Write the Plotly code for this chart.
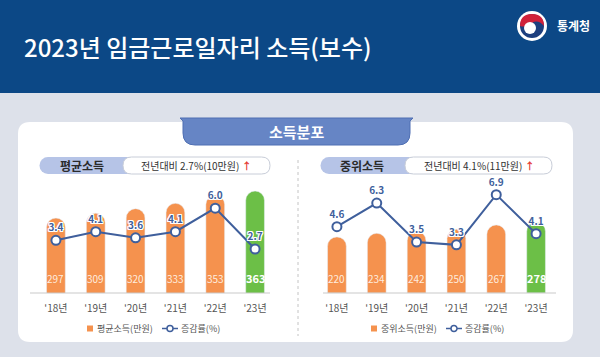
import plotly.graph_objects as go

# ---------------- data ----------------
years = ["'18년", "'19년", "'20년", "'21년", "'22년", "'23년"]
avg_income = [297, 309, 320, 333, 353, 363]
avg_rate = [3.4, 4.1, 3.6, 4.1, 6.0, 2.7]
med_income = [220, 234, 242, 250, 267, 278]
med_rate = [4.6, 6.3, 3.5, 3.3, 6.9, 4.1]

title_text = "2023년 임금근로일자리 소득(보수)"
section_text = "소득분포"
avg_name = "평균소득"
med_name = "중위소득"
avg_note = "전년대비 2.7%(10만원)"
med_note = "전년대비 4.1%(11만원)"
avg_legend = "평균소득(만원)"
med_legend = "중위소득(만원)"
rate_legend = "증감률(%)"

# ---------------- style ----------------
W, H = 600, 357
FONT = "Noto Sans CJK KR"
ORANGE = "#f5924e"
GREEN = "#6cbf47"
LINE = "#3f5f9c"
HEADER = "#0c4886"
BG = "#dde1ea"
TAB = "#6685c5"
PILL = "#b6c4e7"


def px(x):
    return x / W


def py(y):
    return 1 - y / H


bar_colors = [ORANGE] * (len(years) - 1) + [GREEN]
halo = ("1px 0 0 #fff, -1px 0 0 #fff, 0 1px 0 #fff, 0 -1px 0 #fff, "
        "1px 1px 0 #fff, -1px -1px 0 #fff, 1px -1px 0 #fff, -1px 1px 0 #fff")

fig = go.Figure()

# left chart
fig.add_trace(go.Bar(x=years, y=avg_income, marker_color=bar_colors, width=0.47,
                     name=avg_legend, xaxis="x", yaxis="y", hoverinfo="skip"))
fig.add_trace(go.Scatter(x=years, y=avg_rate, mode="lines+markers+text",
                         text=[f"{v:.1f}" for v in avg_rate], textposition="top center",
                         textfont=dict(family=FONT, size=10, color=LINE, weight="bold", shadow=halo),
                         line=dict(color=LINE, width=2),
                         marker=dict(size=9, color="white", line=dict(color=LINE, width=2)),
                         name=rate_legend, xaxis="x", yaxis="y2",
                         cliponaxis=False, hoverinfo="skip"))
# right chart
fig.add_trace(go.Bar(x=years, y=med_income, marker_color=bar_colors, width=0.47,
                     name=med_legend, xaxis="x2", yaxis="y3", hoverinfo="skip"))
fig.add_trace(go.Scatter(x=years, y=med_rate, mode="lines+markers+text",
                         text=[f"{v:.1f}" for v in med_rate], textposition="top center",
                         textfont=dict(family=FONT, size=10, color=LINE, weight="bold", shadow=halo),
                         line=dict(color=LINE, width=2),
                         marker=dict(size=9, color="white", line=dict(color=LINE, width=2)),
                         name=rate_legend, xaxis="x2", yaxis="y4",
                         cliponaxis=False, hoverinfo="skip"))

ydom = [py(293), py(180)]
xaxis_common = dict(showgrid=False, zeroline=False, showline=False, ticks="",
                    tickfont=dict(family=FONT, size=10, color="#555"), fixedrange=True,
                    ticklabelstandoff=8)
yaxis_common = dict(visible=False, showgrid=False, zeroline=False, fixedrange=True)

shapes = []
annotations = []

# header band
shapes.append(dict(type="rect", xref="paper", yref="paper", x0=0, x1=1, y0=py(93), y1=1,
                   fillcolor=HEADER, line_width=0, layer="below"))
# white panel with rounded corners
x0, x1, y0, y1, r = 18, 573, 122, 342, 12
panel = (f"M {px(x0+r)},{py(y0)} L {px(x1-r)},{py(y0)} Q {px(x1)},{py(y0)} {px(x1)},{py(y0+r)} "
         f"L {px(x1)},{py(y1-r)} Q {px(x1)},{py(y1)} {px(x1-r)},{py(y1)} "
         f"L {px(x0+r)},{py(y1)} Q {px(x0)},{py(y1)} {px(x0)},{py(y1-r)} "
         f"L {px(x0)},{py(y0+r)} Q {px(x0)},{py(y0)} {px(x0+r)},{py(y0)} Z")
shapes.append(dict(type="path", xref="paper", yref="paper", path=panel,
                   fillcolor="white", line_width=0, layer="below"))
# section tab
tx0, tx1, ty0, ty1, tr = 183, 410, 118, 145, 12
tab = (f"M {px(tx0-3)},{py(ty0)} L {px(tx1+3)},{py(ty0)} L {px(tx1)},{py(ty0+3)} "
       f"L {px(tx1)},{py(ty1-tr)} Q {px(tx1)},{py(ty1)} {px(tx1-tr)},{py(ty1)} "
       f"L {px(tx0+tr)},{py(ty1)} Q {px(tx0)},{py(ty1)} {px(tx0)},{py(ty1-tr)} "
       f"L {px(tx0)},{py(ty0+3)} Z")
shapes.append(dict(type="path", xref="paper", yref="paper", path=tab,
                   fillcolor=TAB, line=dict(color="#4f6fb3", width=1), layer="below"))
annotations.append(dict(xref="paper", yref="paper", x=px(296), y=py(131), text=f"<b>{section_text}</b>",
                        showarrow=False, font=dict(family=FONT, size=15, color="white"),
                        xanchor="center", yanchor="middle"))


def pill(xa, xb, xc, ya, yb, name, note, name_x, note_x):
    rr = (yb - ya) / 2
    shapes.append(dict(type="rect", xref="paper", yref="paper", x0=px(xa), x1=px(xb + rr),
                       y0=py(yb), y1=py(ya), fillcolor=PILL, line_width=0, layer="below"))
    shapes.append(dict(type="circle", xref="paper", yref="paper", x0=px(xa - rr), x1=px(xa + rr),
                       y0=py(yb), y1=py(ya), fillcolor=PILL, line_width=0, layer="below"))
    shapes.append(dict(type="path", xref="paper", yref="paper",
                       path=(f"M {px(xb+rr)},{py(ya)} L {px(xc-rr)},{py(ya)} "
                             f"Q {px(xc)},{py(ya)} {px(xc)},{py(ya+rr)} Q {px(xc)},{py(yb)} {px(xc-rr)},{py(yb)} "
                             f"L {px(xb+rr)},{py(yb)} Q {px(xb)},{py(yb)} {px(xb)},{py(ya+rr)} "
                             f"Q {px(xb)},{py(ya)} {px(xb+rr)},{py(ya)} Z"),
                       fillcolor="white", line=dict(color="#c8cdd8", width=1), layer="below"))
    annotations.append(dict(xref="paper", yref="paper", x=px(name_x), y=py((ya + yb) / 2),
                            text=f"<b>{name}</b>", showarrow=False,
                            font=dict(family=FONT, size=12, color="#2b2b2b"),
                            xanchor="center", yanchor="middle"))
    annotations.append(dict(xref="paper", yref="paper", x=px(note_x), y=py((ya + yb) / 2),
                            text=f"{note} <span style='color:#e53935'><b>↑</b></span>", showarrow=False,
                            font=dict(family=FONT, size=10, color="#333"),
                            xanchor="center", yanchor="middle"))


pill(48, 123, 270, 157, 174, avg_name, avg_note, 82, 196)
pill(329, 405, 552, 157, 174, med_name, med_note, 362, 479)

# divider
shapes.append(dict(type="line", xref="paper", yref="paper", x0=px(298), x1=px(298),
                   y0=py(160), y1=py(336), line=dict(color="#c4c4c4", width=1, dash="dot")))
# baselines
shapes.append(dict(type="line", xref="paper", yref="paper", x0=px(30), x1=px(270),
                   y0=py(293), y1=py(293), line=dict(color="#c9c9c9", width=1)))
shapes.append(dict(type="line", xref="paper", yref="paper", x0=px(323), x1=px(556),
                   y0=py(293), y1=py(293), line=dict(color="#c9c9c9", width=1)))

# bar value labels
for i, (a, m) in enumerate(zip(avg_income, med_income)):
    last = i == len(years) - 1
    col = "white" if last else "rgba(255,244,232,0.95)"
    annotations.append(dict(xref="x", yref="y domain", x=years[i], y=0.13, text=(f"<b>{a}</b>" if last else str(a)),
                            showarrow=False, font=dict(family=FONT, size=10 if not last else 11, color=col),
                            yanchor="middle"))
    annotations.append(dict(xref="x2", yref="y3 domain", x=years[i], y=0.13, text=(f"<b>{m}</b>" if last else str(m)),
                            showarrow=False, font=dict(family=FONT, size=10 if not last else 11, color=col),
                            yanchor="middle"))


# custom legends
def legend(x, bar_text, rate_text, ly=328.5):
    shapes.append(dict(type="rect", xref="paper", yref="paper", x0=px(x), x1=px(x + 6),
                       y0=py(ly + 3), y1=py(ly - 3), fillcolor=ORANGE, line_width=0))
    annotations.append(dict(xref="paper", yref="paper", x=px(x + 8), y=py(ly), text=bar_text,
                            showarrow=False, xanchor="left", yanchor="middle",
                            font=dict(family=FONT, size=9, color="#555")))
    l0, l1 = x + 75, x + 91
    shapes.append(dict(type="line", xref="paper", yref="paper", x0=px(l0), x1=px(l1),
                       y0=py(ly), y1=py(ly), line=dict(color=LINE, width=1.5)))
    cxm = (l0 + l1) / 2
    shapes.append(dict(type="circle", xref="paper", yref="paper", x0=px(cxm - 3), x1=px(cxm + 3),
                       y0=py(ly + 3), y1=py(ly - 3), fillcolor="white", line=dict(color=LINE, width=1.5)))
    annotations.append(dict(xref="paper", yref="paper", x=px(l1 + 1), y=py(ly), text=rate_text,
                            showarrow=False, xanchor="left", yanchor="middle",
                            font=dict(family=FONT, size=9, color="#555")))


legend(87, avg_legend, rate_legend)
legend(371, med_legend, rate_legend)

# header title + logo
annotations.append(dict(xref="paper", yref="paper", x=px(22), y=py(47), text=title_text,
                        showarrow=False, xanchor="left", yanchor="middle",
                        font=dict(family=FONT, size=24, color="white", weight=500)))
annotations.append(dict(xref="paper", yref="paper", x=px(555), y=py(26), text="<b>통계청</b>",
                        showarrow=False, xanchor="left", yanchor="middle",
                        font=dict(family=FONT, size=12, color="white")))
cx, cy = 532, 26
shapes.append(dict(type="circle", xref="paper", yref="paper", x0=px(cx-15), x1=px(cx+15),
                   y0=py(cy+15), y1=py(cy-15), fillcolor="white", line_width=0))
shapes.append(dict(type="circle", xref="paper", yref="paper", x0=px(cx-12), x1=px(cx+12),
                   y0=py(cy+12), y1=py(cy-12), fillcolor="#1d3f7e", line_width=0))
shapes.append(dict(type="path", xref="paper", yref="paper",
                   path=(f"M {px(cx-12)},{py(cy)} Q {px(cx-12)},{py(cy-12)} {px(cx)},{py(cy-12)} "
                         f"Q {px(cx+12)},{py(cy-12)} {px(cx+12)},{py(cy)} "
                         f"Q {px(cx+6)},{py(cy-7)} {px(cx)},{py(cy-3)} Q {px(cx-6)},{py(cy+2)} {px(cx-12)},{py(cy)} Z"),
                   fillcolor="#d0213a", line_width=0))
shapes.append(dict(type="circle", xref="paper", yref="paper", x0=px(cx-8), x1=px(cx+4),
                   y0=py(cy+8), y1=py(cy-4), fillcolor="white", line_width=0))

fig.update_layout(
    width=W, height=H, margin=dict(l=0, r=0, t=0, b=0),
    paper_bgcolor=BG, plot_bgcolor="rgba(0,0,0,0)",
    barcornerradius="50%",
    showlegend=False,
    font=dict(family=FONT),
    xaxis=dict(domain=[px(36), px(275)], anchor="y", **xaxis_common),
    yaxis=dict(domain=ydom, range=[114, 390], anchor="x", **yaxis_common),
    yaxis2=dict(range=[-0.85, 8.27], overlaying="y", anchor="x", **yaxis_common),
    xaxis2=dict(domain=[px(317), px(556)], anchor="y3", **xaxis_common),
    yaxis3=dict(domain=ydom, range=[0, 443], anchor="x2", **yaxis_common),
    yaxis4=dict(range=[-0.15, 7.95], overlaying="y3", anchor="x2", **yaxis_common),
    shapes=shapes, annotations=annotations,
)

fig.write_html("out.html", config=dict(displayModeBar=False),
               post_script="document.body.style.margin='0';document.body.style.overflow='hidden';")
